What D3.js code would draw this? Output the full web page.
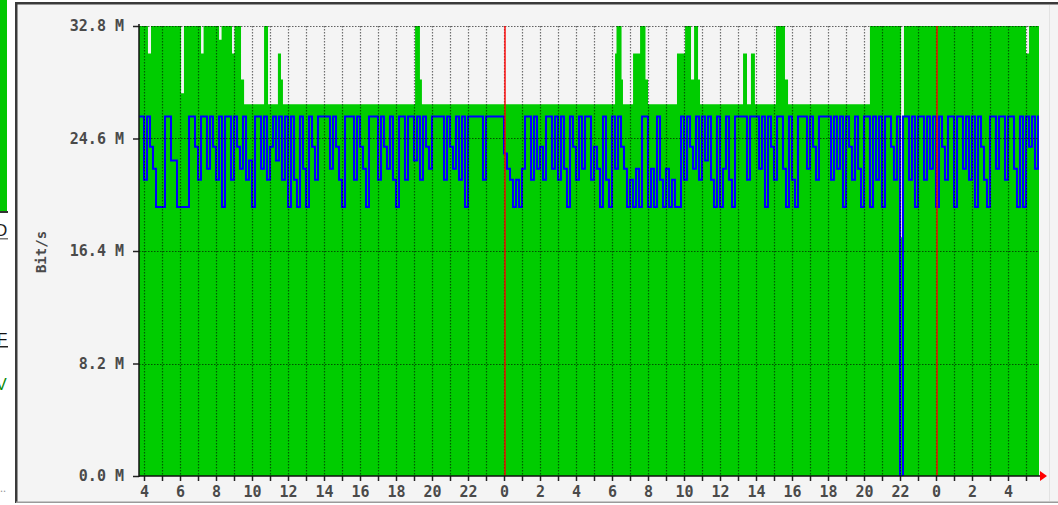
<!DOCTYPE html>
<html>
<head>
<meta charset="utf-8">
<script src="https://cdn.jsdelivr.net/npm/d3@7"></script>
<style>
html, body { margin: 0; padding: 0; background: #fff; }
svg { display: block; }
</style>
</head>
<body>
<svg id="chart" width="1058" height="505"></svg>
<script>
// y axis ticks (Mbit/s)
var yTicks = [0, 8.2, 16.4, 24.6, 32.8]
var yLabels = ['0.0 M', '8.2 M', '16.4 M', '24.6 M', '32.8 M']

// x axis: hours since midnight of the first day
var hourTicks = [4, 5, 6, 7, 8, 9, 10, 11, 12, 13, 14, 15, 16, 17, 18, 19, 20, 21, 22, 23,
    24, 25, 26, 27, 28, 29, 30, 31, 32, 33, 34, 35, 36, 37, 38, 39, 40, 41, 42, 43,
    44, 45, 46, 47, 48, 49, 50, 51, 52, 53]
var labelHours = [4, 6, 8, 10, 12, 14, 16, 18, 20, 22, 24, 26, 28, 30, 32, 34, 36, 38, 40, 42, 44, 46, 48, 50, 52]
var xLabels = ['4', '6', '8', '10', '12', '14', '16', '18', '20', '22', '0', '2', '4', '6', '8', '10', '12', '14', '16', '18', '20', '22', '0', '2', '4']
var midnights = [24, 48]
var timeStart = 3.7222, timeEnd = 53.7222

// incoming traffic (green area), step changes as [hour, Mbit/s]
var inSteps = [
    [3.72, 32.8], [4.22, 30.8], [4.39, 32.8], [6.06, 27.9], [6.22, 32.8],
    [7.17, 30.8], [7.31, 32.8], [8.17, 31.8], [8.31, 32.8], [8.89, 30.8],
    [9.03, 32.8], [9.39, 28.9], [9.56, 27.1], [10.67, 32.8], [10.89, 27.1],
    [11.44, 30.8], [11.61, 28.9], [11.72, 27.1], [19.06, 32.8], [19.33, 28.9],
    [19.44, 27.1], [30.17, 30.8], [30.25, 32.8], [30.53, 28.9], [30.61, 27.1],
    [31.17, 30.8], [31.56, 32.8], [31.86, 28.9], [32.0, 27.1], [33.61, 30.8],
    [34.06, 32.8], [34.39, 28.9], [34.56, 32.8], [34.78, 28.9], [34.89, 27.1],
    [37.28, 30.8], [37.5, 27.1], [37.72, 30.8], [37.94, 27.1], [39.11, 32.8],
    [39.61, 28.9], [39.78, 27.1], [44.33, 32.8], [46.06, 17.4], [46.22, 32.8],
    [53.0, 30.8], [53.17, 32.8]
]

// outgoing traffic (blue line), one value per 10 minutes from 03:40
var outStart = 3 + 40 / 60
var outStep = 1 / 6
var outValues = [
    26.2, 26.2, 21.6, 26.2, 24.0, 22.4, 19.6, 19.6, 19.6, 26.2,
    26.2, 23.0, 23.0, 19.6, 19.6, 19.6, 19.6, 26.2, 26.2, 24.0,
    21.6, 26.2, 26.2, 22.4, 26.2, 24.0, 21.6, 26.2, 19.6, 26.2,
    26.2, 21.6, 26.2, 24.0, 22.4, 26.2, 21.6, 23.0, 19.6, 26.2,
    26.2, 22.4, 26.2, 21.6, 24.0, 26.2, 23.0, 26.2, 21.6, 26.2,
    19.6, 26.2, 21.6, 19.6, 26.2, 22.4, 19.6, 26.2, 24.0, 21.6,
    26.2, 26.2, 26.2, 26.2, 22.4, 26.2, 24.0, 21.6, 19.6, 26.2,
    26.2, 26.2, 21.6, 26.2, 24.0, 22.4, 19.6, 26.2, 26.2, 26.2,
    21.6, 26.2, 24.0, 22.4, 26.2, 21.6, 19.6, 26.2, 26.2, 21.6,
    26.2, 26.2, 23.0, 26.2, 21.6, 26.2, 24.0, 22.4, 26.2, 26.2,
    26.2, 26.2, 21.6, 26.2, 24.0, 22.4, 26.2, 21.6, 26.2, 19.6,
    26.2, 26.2, 26.2, 26.2, 26.2, 21.6, 26.2, 26.2, 26.2, 26.2,
    26.2, 26.2, 23.5, 22.4, 21.6, 19.6, 21.6, 19.6, 22.4, 26.2,
    26.2, 21.6, 26.2, 22.4, 24.0, 21.6, 26.2, 26.2, 22.4, 26.2,
    21.6, 26.2, 22.4, 19.6, 26.2, 24.0, 21.6, 26.2, 22.4, 26.2,
    26.2, 21.6, 24.0, 22.4, 19.6, 26.2, 21.6, 19.6, 26.2, 22.4,
    26.2, 24.0, 22.4, 19.6, 21.6, 19.6, 22.4, 19.6, 26.2, 26.2,
    19.6, 22.4, 19.6, 26.2, 21.6, 19.6, 22.4, 19.6, 21.6, 19.6,
    19.6, 26.2, 21.6, 26.2, 24.0, 22.4, 26.2, 21.6, 26.2, 23.0,
    26.2, 21.6, 19.6, 26.2, 19.6, 22.4, 26.2, 21.6, 19.6, 26.2,
    26.2, 26.2, 26.2, 21.6, 26.2, 26.2, 26.2, 22.4, 26.2, 19.6,
    26.2, 24.0, 21.6, 26.2, 26.2, 22.4, 19.6, 26.2, 21.6, 19.6,
    26.2, 26.2, 26.2, 22.4, 26.2, 24.0, 21.6, 26.2, 26.2, 26.2,
    26.2, 21.6, 26.2, 22.4, 26.2, 19.6, 26.2, 24.0, 21.6, 26.2,
    22.4, 19.6, 26.2, 26.2, 19.6, 26.2, 21.6, 26.2, 19.6, 26.2,
    26.2, 24.0, 21.6, 26.2, 0.0, 26.2, 26.2, 21.6, 26.2, 19.6,
    26.2, 26.2, 21.6, 26.2, 22.4, 26.2, 19.6, 26.2, 24.0, 21.6,
    26.2, 26.2, 19.6, 26.2, 26.2, 22.4, 26.2, 21.6, 26.2, 19.6,
    26.2, 24.0, 21.6, 19.6, 26.2, 26.2, 22.4, 26.2, 26.2, 21.6,
    26.2, 26.2, 22.4, 19.6, 26.2, 19.6, 26.2, 24.0, 26.2, 22.4,
    26.2
]

var colorIn = '#00cc00'
var colorOut = '#0000ff'
var colorBg = '#f4f4f4'
var fontMono = '"DejaVu Sans Mono", "Liberation Mono", monospace'

//
// Layout
//

var svg = d3.select('#chart')
var plot = { left: 139, right: 1039, top: 26, bottom: 476 }

var x = d3.scaleLinear().domain([timeStart, timeEnd]).range([plot.left, plot.right])
var y = d3.scaleLinear().domain([0, 32.8]).range([plot.bottom, plot.top])

// bits of the page behind the graph window
svg.append('rect').attr('width', 1058).attr('height', 505).attr('fill', '#fff')
svg.append('rect').attr('x', 0).attr('y', 0).attr('width', 7).attr('height', 211).attr('fill', '#00c800')
svg.append('rect').attr('x', 0).attr('y', 211).attr('width', 8).attr('height', 2).attr('fill', '#333')
svg.append('text').attr('x', -5).attr('y', 236).attr('font-family', 'Liberation Sans, sans-serif')
    .attr('font-size', 17).attr('fill', '#222').text('D')
svg.append('rect').attr('x', 0).attr('y', 238).attr('width', 8).attr('height', 1.5).attr('fill', '#777')
svg.append('text').attr('x', -3).attr('y', 345).attr('font-family', 'Liberation Sans, sans-serif')
    .attr('font-size', 17).attr('fill', '#111').text('F')
svg.append('rect').attr('x', 0).attr('y', 346).attr('width', 8).attr('height', 1.5).attr('fill', '#222')
svg.append('text').attr('x', -4).attr('y', 390).attr('font-family', 'Liberation Sans, sans-serif')
    .attr('font-size', 16).attr('fill', '#0a8a0a').text('V')
svg.append('text').attr('x', 0).attr('y', 492).attr('font-size', 12).attr('fill', '#999').text('..')

// graph window
svg.append('rect').attr('x', 16).attr('y', 2).attr('width', 1042).attr('height', 501).attr('fill', colorBg)
svg.append('rect').attr('x', 16).attr('y', 2).attr('width', 1042).attr('height', 2.5).attr('fill', '#3a3a3a')
svg.append('rect').attr('x', 15).attr('y', 2).attr('width', 2.5).attr('height', 501).attr('fill', '#3a3a3a')
svg.append('rect').attr('x', 16).attr('y', 501.5).attr('width', 1042).attr('height', 1.5).attr('fill', '#9a9a9a')
svg.append('line').attr('x1', 1049.5).attr('x2', 1049.5).attr('y1', 5).attr('y2', 501)
    .attr('stroke', '#e2e2e2').attr('stroke-width', 1)

svg.append('clipPath').attr('id', 'plotClip')
    .append('rect').attr('x', plot.left).attr('y', plot.top - 1)
    .attr('width', plot.right - plot.left).attr('height', plot.bottom - plot.top + 1)

var g = svg.append('g').attr('clip-path', 'url(#plotClip)')

// incoming area
var inData = inSteps.concat([[timeEnd + 1, inSteps[inSteps.length - 1][1]]])
var area = d3.area()
    .curve(d3.curveStepAfter)
    .x(function (d) { return x(d[0]) })
    .y0(y(0))
    .y1(function (d) { return y(d[1]) })

g.append('path')
    .datum(inData)
    .attr('d', area)
    .attr('fill', colorIn)

// outgoing line
var outData = outValues.map(function (v, i) { return [outStart + i * outStep, v] })
outData.push([timeEnd + 1, outValues[outValues.length - 1]])
var line = d3.line()
    .curve(d3.curveStepAfter)
    .x(function (d) { return x(d[0]) })
    .y(function (d) { return y(d[1]) })

g.append('path')
    .datum(outData)
    .attr('d', line)
    .attr('fill', 'none')
    .attr('stroke', colorOut)
    .attr('stroke-width', 2)

// grid
g.selectAll('.vgrid')
    .data(hourTicks)
    .enter().append('line')
    .attr('class', 'vgrid')
    .attr('x1', function (d) { return Math.round(x(d)) + 0.5 })
    .attr('x2', function (d) { return Math.round(x(d)) + 0.5 })
    .attr('y1', plot.top)
    .attr('y2', plot.bottom)
    .attr('stroke', '#000')
    .attr('stroke-opacity', 0.55)
    .attr('stroke-width', 1.2)
    .attr('stroke-dasharray', '1.5,1.5')

g.selectAll('.hgrid')
    .data(yTicks.slice(1))
    .enter().append('line')
    .attr('class', 'hgrid')
    .attr('x1', plot.left)
    .attr('x2', plot.right)
    .attr('y1', function (d) { return Math.round(y(d)) + 0.5 })
    .attr('y2', function (d) { return Math.round(y(d)) + 0.5 })
    .attr('stroke', '#000')
    .attr('stroke-opacity', 0.6)
    .attr('stroke-width', 1.2)
    .attr('stroke-dasharray', '1.5,1.5')

// midnight markers
g.selectAll('.midnight')
    .data(midnights)
    .enter().append('line')
    .attr('class', 'midnight')
    .attr('x1', function (d) { return x(d) + 1 })
    .attr('x2', function (d) { return x(d) + 1 })
    .attr('y1', plot.top)
    .attr('y2', plot.bottom)
    .attr('stroke', '#ff0000')
    .attr('stroke-opacity', 0.7)
    .attr('stroke-width', 2)

// axes
var yAxis = d3.axisLeft(y)
    .tickValues(yTicks)
    .tickSize(6)
    .tickPadding(9)
    .tickFormat(function (d) { return yLabels[yTicks.indexOf(d)] })

var xAxis = d3.axisBottom(x)
    .tickValues(hourTicks)
    .tickSize(5)
    .tickPadding(5)
    .tickFormat(function (d) {
        var k = labelHours.indexOf(d)
        return k < 0 ? '' : xLabels[k]
    })

function styleAxis(sel) {
    sel.select('.domain').remove()
    sel.selectAll('.tick line').attr('stroke', '#222').attr('stroke-width', 1.5)
    sel.selectAll('.tick text')
        .attr('fill', '#4a4a4a')
        .attr('font-family', fontMono)
        .attr('font-weight', 'bold')
        .attr('font-size', 15)
}

svg.append('g').attr('transform', 'translate(' + plot.left + ',0)').call(yAxis).call(styleAxis)
svg.append('g').attr('transform', 'translate(0,' + plot.bottom + ')').call(xAxis).call(styleAxis)

svg.append('line')
    .attr('x1', plot.left).attr('x2', plot.left)
    .attr('y1', plot.top - 2).attr('y2', plot.bottom + 1)
    .attr('stroke', '#111').attr('stroke-width', 1.5)
svg.append('line')
    .attr('x1', plot.left).attr('x2', plot.right + 1)
    .attr('y1', plot.bottom).attr('y2', plot.bottom)
    .attr('stroke', '#111').attr('stroke-width', 1.5)
svg.append('path')
    .attr('d', 'M' + (plot.right + 1) + ',' + (plot.bottom - 5) + 'L' + (plot.right + 8) + ',' + plot.bottom +
        'L' + (plot.right + 1) + ',' + (plot.bottom + 5) + 'Z')
    .attr('fill', '#ff0000')

// y axis title
svg.append('text')
    .attr('transform', 'translate(46,252) rotate(-90)')
    .attr('text-anchor', 'middle')
    .attr('font-family', fontMono)
    .attr('font-weight', 'bold')
    .attr('font-size', 14)
    .attr('fill', '#4a4a4a')
    .text('Bit/s')
</script>
</body>
</html>
